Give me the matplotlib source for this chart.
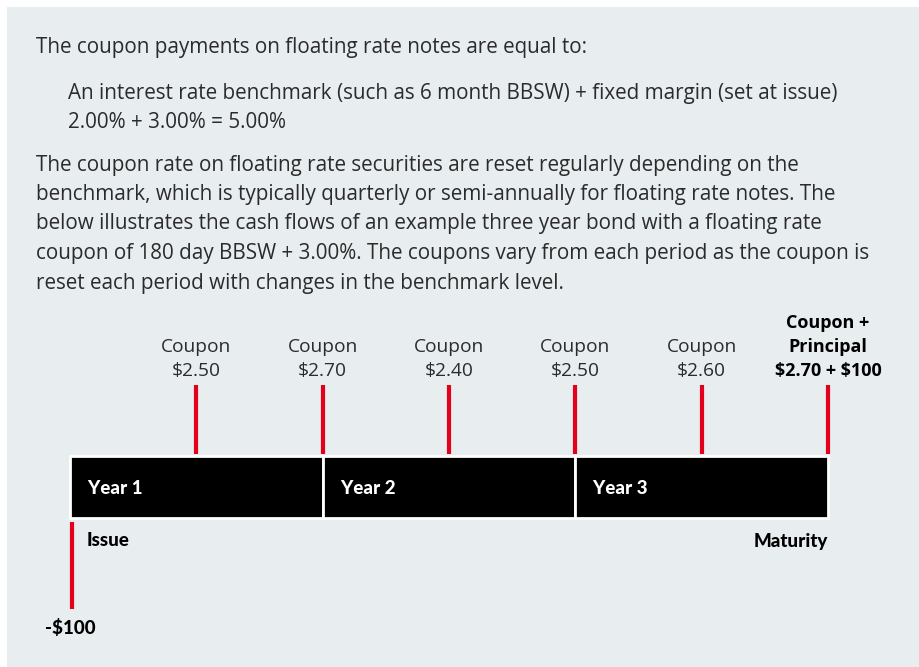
import matplotlib.pyplot as plt
from matplotlib.patches import Rectangle

# Du lieu
years = ['Year 1', 'Year 2', 'Year 3']
coupon_times = [0.5, 1.0, 1.5, 2.0, 2.5, 3.0]
coupon_amounts = [2.50, 2.70, 2.40, 2.50, 2.60, 2.70]
principal = 100
issue_price = -100

intro = 'The coupon payments on floating rate notes are equal to:'
formula = ['An interest rate benchmark (such as 6 month BBSW) + fixed margin (set at issue)',
           '2.00% + 3.00% = 5.00%']
paragraph = ['The coupon rate on floating rate securities are reset regularly depending on the',
             'benchmark, which is typically quarterly or semi-annually for floating rate notes. The',
             'below illustrates the cash flows of an example three year bond with a floating rate',
             'coupon of 180 day BBSW + 3.00%. The coupons vary from each period as the coupon is',
             'reset each period with changes in the benchmark level.']

W, H = 919, 667
body_font = 'Open Sans'
bold_font = 'Lato'
text_col = '#2b2b2b'
red = '#e2001a'

fig = plt.figure(figsize=(W / 100, H / 100), dpi=100)
fig.patch.set_facecolor('white')

# Nen (toa do pixel)
bg = fig.add_axes([0, 0, 1, 1])
bg.set_xlim(0, W)
bg.set_ylim(H, 0)
bg.axis('off')
bg.add_patch(Rectangle((7, 7), W - 7, H - 7, facecolor='#e8edf0', edgecolor='none'))

body = dict(family=body_font, fontsize=14.85, color=text_col, va='center', parse_math=False)
bg.text(36, 47, intro, **body)
for i, line in enumerate(formula):
    bg.text(68, 93 + i * 29, line, **body)
for i, line in enumerate(paragraph):
    bg.text(36, 165 + i * 29.5, line, **body)

# Truc thoi gian: x tinh bang nam
x0, x1 = 70, 828
ax = fig.add_axes([x0 / W, 0, (x1 - x0) / W, 1])
ax.set_xlim(0, 3)
ax.set_ylim(H, 0)
ax.axis('off')
ax.patch.set_alpha(0)

heavy = dict(family=bold_font, fontweight='black', fontsize=13.5, va='center',
             parse_math=False, clip_on=False)

ax.bar(range(len(years)), 62, bottom=456, width=1, align='edge',
       color='black', edgecolor='white', linewidth=2, clip_on=False)
for i, name in enumerate(years):
    ax.text(i, 489, '    ' + name, color='white', ha='left', **heavy)

ax.vlines(coupon_times, 385, 454, color=red, linewidth=3, clip_on=False)
label = dict(family=body_font, fontsize=13.8, color=text_col, ha='center', va='center',
             parse_math=False, clip_on=False)
for t, c in zip(coupon_times[:-1], coupon_amounts[:-1]):
    ax.text(t, 347, 'Coupon', **label)
    ax.text(t, 371, f'${c:.2f}', **label)

last = coupon_times[-1]
for j, line in enumerate(['Coupon +', 'Principal', f'${coupon_amounts[-1]:.2f} + ${principal}']):
    ax.text(last, 323 + j * 24, line, family=body_font, fontweight='bold', fontsize=13,
            color='black', ha='center', va='center', parse_math=False, clip_on=False)

# Phat hanh
ax.vlines(0.008, 522, 609, color=red, linewidth=3, clip_on=False)
ax.text(0.064, 541, 'Issue', color='black', ha='left', **heavy)
ax.text(3, 541, 'Maturity', color='black', ha='right', **heavy)
ax.text(0, 628, f'-${abs(issue_price)}', color='black', ha='center', **heavy)

fig.savefig('out.png', dpi=100, facecolor=fig.get_facecolor())
